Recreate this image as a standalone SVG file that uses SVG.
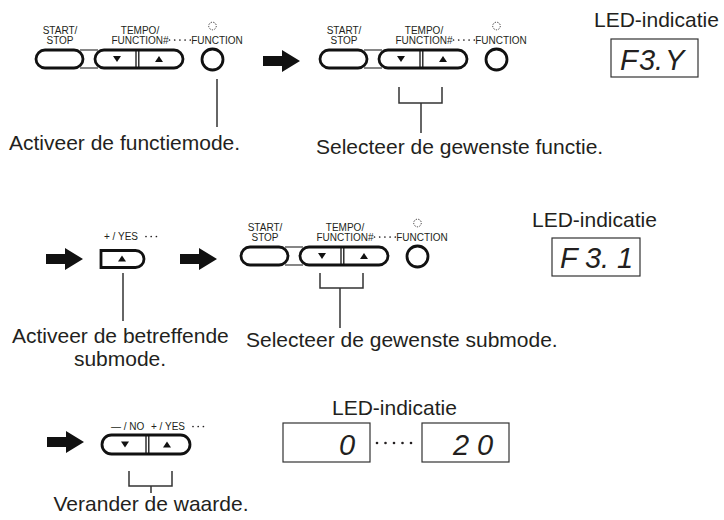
<svg xmlns="http://www.w3.org/2000/svg" width="724" height="520" viewBox="0 0 724 520">
<style>
  .lbl{font-family:"Liberation Sans",Arial,sans-serif;font-size:10px;fill:#231f20}
  .big{font-family:"Liberation Sans",Arial,sans-serif;font-size:21px;fill:#231f20}
  .led{font-family:"Liberation Sans",Arial,sans-serif;font-size:29px;font-style:italic;fill:#231f20}
  .btn{fill:#fff;stroke:#111;stroke-width:2.8}
  .band{stroke:#444;stroke-width:1.3;fill:none}
  .div{stroke:#111;stroke-width:1.3}
  .tri{fill:#111}
  .d{fill:#231f20}
  .dc{fill:none;stroke:#231f20;stroke-width:0.9;stroke-dasharray:1.3 1.3}
  .ln{stroke:#333;stroke-width:1.5;fill:none}
  .box{fill:#fff;stroke:#333;stroke-width:1.2}
  .arr{fill:#111}
</style>
<defs>
  <path id="arrow" d="M0,-5 H19 V-11 L37,0 L19,11 V5 H0 Z"/>
  <g id="dots5s">
    <circle class="d" cx="0" cy="0" r="0.85"/>
    <circle class="d" cx="5.2" cy="0" r="0.85"/>
    <circle class="d" cx="10.4" cy="0" r="0.85"/>
    <circle class="d" cx="15.6" cy="0" r="0.85"/>
    <circle class="d" cx="20.8" cy="0" r="0.85"/>
  </g>
  <g id="dots3s">
    <circle class="d" cx="0" cy="0" r="0.85"/>
    <circle class="d" cx="5.2" cy="0" r="0.85"/>
    <circle class="d" cx="10.4" cy="0" r="0.85"/>
  </g>
  <g id="panel">
    <line class="band" x1="80" y1="50" x2="98" y2="50"/>
    <line class="band" x1="80" y1="68" x2="98" y2="68"/>
    <rect class="btn" x="36" y="50" width="47" height="18" rx="9"/>
    <rect class="btn" x="95" y="50" width="88" height="18" rx="9"/>
    <line class="div" x1="136" y1="50" x2="136" y2="68"/>
    <line class="div" x1="138.8" y1="50" x2="138.8" y2="68"/>
    <polygon class="tri" points="113,56 121,56 117,62"/>
    <polygon class="tri" points="155,62 163,62 159,56"/>
    <circle class="btn" cx="212.5" cy="59.5" r="10.5"/>
    <circle class="dc" cx="212.5" cy="26" r="3.8"/>
    <text class="lbl" x="60" y="34" text-anchor="middle">START/</text>
    <text class="lbl" x="60" y="43.5" text-anchor="middle">STOP</text>
    <text class="lbl" x="140" y="34" text-anchor="middle">TEMPO/</text>
    <text class="lbl" x="140" y="43.5" text-anchor="middle">FUNCTION#</text>
    <use href="#dots5s" transform="translate(169.5,40)"/>
    <text class="lbl" x="217" y="43.5" text-anchor="middle">FUNCTION</text>
  </g>
</defs>

<g id="arrows">
  <use href="#arrow" class="arr" transform="translate(263,61)"/>
  <use href="#arrow" class="arr" transform="translate(46,259)"/>
  <use href="#arrow" class="arr" transform="translate(180,259)"/>
  <use href="#arrow" class="arr" transform="translate(47,442)"/>
</g>

<g id="panel1"><use href="#panel"/></g>
<g id="panel2"><use href="#panel" transform="translate(284,0)"/></g>
<g id="panel3"><use href="#panel" transform="translate(205,197)"/></g>

<g id="yes-button">
  <path class="btn" d="M101,250.5 H135.5 A8.5,8.5 0 0 1 135.5,267.5 H101 Z"/>
  <polygon class="tri" points="118,261.5 126,261.5 122,255.5"/>
  <text class="lbl" x="104" y="240">+ / YES</text>
  <use href="#dots3s" transform="translate(146,236.5)"/>
</g>

<g id="noyes-button">
  <rect class="btn" x="102" y="435" width="88" height="19" rx="9.5"/>
  <line class="div" x1="146" y1="435" x2="146" y2="454"/>
  <line class="div" x1="148.8" y1="435" x2="148.8" y2="454"/>
  <polygon class="tri" points="121,441.5 129,441.5 125,447.5"/>
  <polygon class="tri" points="163,447.5 171,447.5 167,441.5"/>
  <text class="lbl" x="111" y="430">— / NO</text>
  <text class="lbl" x="151" y="430">+ / YES</text>
  <use href="#dots3s" transform="translate(193,426.5)"/>
</g>

<g id="connectors">
  <line class="ln" x1="217" y1="79" x2="217" y2="127"/>
  <path class="ln" d="M399,87 V103 H442 V87"/>
  <line class="ln" x1="421" y1="103" x2="421" y2="133"/>
  <line class="ln" x1="123" y1="273" x2="123" y2="321"/>
  <path class="ln" d="M320,273 V288 H363 V273"/>
  <line class="ln" x1="340" y1="288" x2="340" y2="328"/>
  <path class="ln" d="M129,471 V486 H172 V471"/>
  <line class="ln" x1="151" y1="486" x2="151" y2="493"/>
</g>

<g id="led1">
  <text class="big" x="594" y="27">LED-indicatie</text>
  <rect class="box" x="611" y="39" width="87" height="38"/>
  <text class="led" x="620 639 655 665" y="70">F3.Y</text>
</g>
<g id="led2">
  <text class="big" x="532" y="227">LED-indicatie</text>
  <rect class="box" x="552" y="238" width="88" height="38"/>
  <text class="led" x="560 585 601 617" y="268">F3.1</text>
</g>
<g id="led3">
  <text class="big" x="332" y="415">LED-indicatie</text>
  <rect class="box" x="283" y="423" width="87" height="39"/>
  <g id="led-dots">
    <circle class="d" cx="377" cy="443" r="1.3"/>
    <circle class="d" cx="385.5" cy="443" r="1.3"/>
    <circle class="d" cx="394" cy="443" r="1.3"/>
    <circle class="d" cx="402.5" cy="443" r="1.3"/>
    <circle class="d" cx="411" cy="443" r="1.3"/>
  </g>
  <rect class="box" x="422" y="423" width="87" height="39"/>
  <text class="led" x="339" y="455">0</text>
  <text class="led" x="453 477" y="455">20</text>
</g>

<g id="captions">
  <text class="big" x="9" y="150">Activeer de functiemode.</text>
  <text class="big" x="316" y="154">Selecteer de gewenste functie.</text>
  <text class="big" x="12" y="343">Activeer de betreffende</text>
  <text class="big" x="120" y="366" text-anchor="middle">submode.</text>
  <text class="big" x="246" y="347">Selecteer de gewenste submode.</text>
  <text class="big" x="151" y="511" text-anchor="middle">Verander de waarde.</text>
</g>
</svg>
